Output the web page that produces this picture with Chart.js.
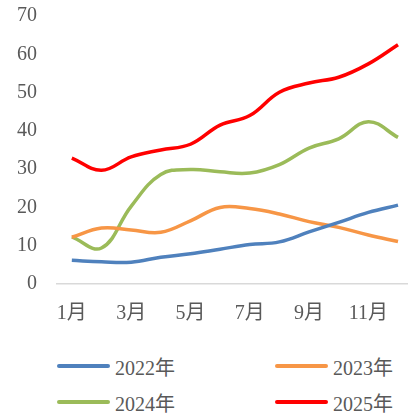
<!DOCTYPE html>
<html>
<head>
<meta charset="utf-8">
<script src="https://cdn.jsdelivr.net/npm/chart.js@4"></script>
<style>
    html, body { margin: 0; padding: 0; background: #fff; }
    body { width: 408px; height: 418px; overflow: hidden; position: relative; }
    #chartBox { position: absolute; left: 0; top: -16px; width: 416px; height: 346px; }
    #legend { position: absolute; left: 0; top: 350px; width: 408px; height: 68px; }
    .item { position: absolute; height: 24px; display: flex; align-items: center;
            font: 20px "Liberation Serif", "Noto Sans CJK SC", serif; color: #595959; }
    .swatch { width: 53px; height: 4px; border-radius: 2px; margin-right: 5px; }
</style>
</head>
<body>
<div id="chartBox"><canvas id="lineChart" width="416" height="346"></canvas></div>
<div id="legend"></div>

<script>
// data
const months = ['1月', '2月', '3月', '4月', '5月', '6月', '7月', '8月', '9月', '10月', '11月', '12月'];
const seriesNames = ['2022年', '2023年', '2024年', '2025年'];
const values2022 = [6.2, 5.8, 5.7, 7.0, 7.9, 9.1, 10.3, 11.0, 13.6, 16.1, 18.7, 20.6];
const values2023 = [12.2, 14.6, 14.1, 13.5, 16.5, 20.0, 19.7, 18.3, 16.3, 14.8, 12.8, 11.1];
const values2024 = [12.3, 9.4, 20.3, 28.6, 29.9, 29.3, 29.0, 31.2, 35.5, 37.9, 42.4, 38.3];
const values2025 = [32.9, 29.7, 33.2, 35.0, 36.5, 41.5, 44.0, 50.1, 52.5, 54.0, 57.5, 62.5];
const seriesColors = ['#4F81BD', '#F79646', '#9BBB59', '#FF0000'];
const yTicks = [0, 10, 20, 30, 40, 50, 60, 70];

const fontFamily = '"Liberation Serif", "Noto Sans CJK SC", serif';
const allValues = [values2022, values2023, values2024, values2025];

const datasets = seriesNames.map(function (name, i) {
    return {
        label: name,
        data: allValues[i],
        borderColor: seriesColors[i],
        backgroundColor: seriesColors[i],
        borderWidth: 3.5,
        pointRadius: 0,
        tension: 0.4,
        fill: false
    };
});

const ctx = document.getElementById('lineChart').getContext('2d');
const lineChart = new Chart(ctx, {
    type: 'line',
    data: { labels: months, datasets: datasets },
    options: {
        responsive: false,
        animation: false,
        layout: { padding: { top: 0, right: 0, bottom: 6, left: 0 } },
        plugins: {
            legend: { display: false },
            tooltip: { enabled: false }
        },
        scales: {
            x: {
                offset: true,
                grid: { display: false, drawTicks: false },
                border: { display: true, color: '#D9D9D9', width: 1.5 },
                ticks: {
                    autoSkip: false,
                    maxRotation: 0,
                    padding: 18,
                    color: '#595959',
                    font: { family: fontFamily, size: 20 },
                    callback: function (val, index) {
                        return index % 2 === 0 ? months[index] : '';
                    }
                },
                afterFit: function (scale) { scale.height = 40; }
            },
            y: {
                min: yTicks[0],
                max: yTicks[yTicks.length - 1],
                grid: { display: false, drawTicks: false },
                border: { display: false },
                afterBuildTicks: function (scale) {
                    scale.ticks = yTicks.map(function (v) { return { value: v }; });
                },
                ticks: {
                    padding: 20,
                    color: '#595959',
                    font: { family: fontFamily, size: 20 }
                },
                afterFit: function (scale) { scale.width = 57; }
            }
        }
    }
});

// legend in two columns below the chart
const legendBox = document.getElementById('legend');
const legendPos = [[57, 4], [275, 4], [57, 40], [275, 40]];
lineChart.data.datasets.forEach(function (ds, i) {
    const item = document.createElement('div');
    item.className = 'item';
    item.style.left = legendPos[i][0] + 'px';
    item.style.top = legendPos[i][1] + 'px';
    const sw = document.createElement('span');
    sw.className = 'swatch';
    sw.style.background = ds.borderColor;
    const txt = document.createElement('span');
    txt.textContent = ds.label;
    item.appendChild(sw);
    item.appendChild(txt);
    legendBox.appendChild(item);
});
</script>
</body>
</html>
